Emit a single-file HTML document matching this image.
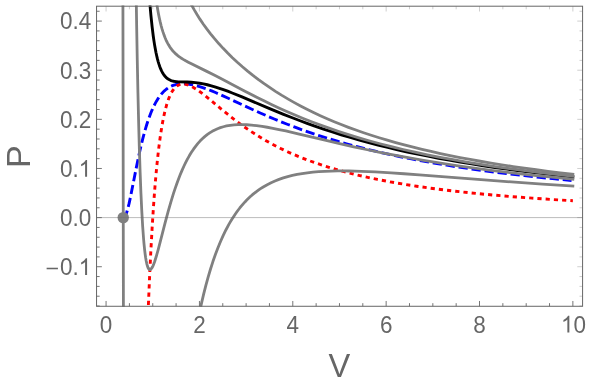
<!DOCTYPE html>
<html><head><meta charset="utf-8"><title>P-V diagram</title>
<style>
html,body{margin:0;padding:0;background:#fff;}
body{width:590px;height:384px;overflow:hidden;position:relative;font-family:"Liberation Sans",sans-serif;}
</style></head><body>
<svg width="590" height="384" viewBox="0 0 590 384" style="position:absolute;left:0;top:0;will-change:transform">
<defs><clipPath id="c"><rect x="96.05" y="5.60" width="487.03" height="301.17"/></clipPath></defs>
<rect x="0" y="0" width="590" height="384" fill="#fff"/>
<g clip-path="url(#c)" fill="none" stroke-linejoin="round">
<path d="M123.24 217.60 L123.82 217.50 L124.37 217.14 L124.89 216.53 L125.42 215.64 L125.98 214.43 L126.55 212.90 L127.14 211.06 L127.81 208.68 L129.11 203.38 L130.57 196.63 L135.86 169.86 L138.15 158.70 L140.06 149.96 L141.92 142.12 L143.11 137.39 L144.36 132.73 L145.54 128.58 L146.77 124.53 L148.05 120.59 L149.25 117.16 L150.64 113.49 L151.94 110.32 L153.44 106.97 L154.85 104.11 L156.32 101.42 L157.84 98.89 L159.43 96.55 L161.08 94.39 L162.81 92.42 L164.41 90.83 L166.28 89.23 L168.01 87.99 L169.81 86.90 L171.68 85.97 L173.88 85.12 L175.92 84.53 L178.05 84.11 L180.27 83.84 L182.59 83.74 L185.32 83.80 L187.86 84.03 L190.85 84.47 L193.65 85.03 L196.96 85.84 L200.44 86.86 L204.12 88.08 L207.57 89.33 L211.65 90.94 L215.48 92.53 L220.04 94.51 L228.26 98.24 L251.88 109.21 L259.63 112.70 L267.13 115.99 L274.26 119.01 L280.88 121.72 L287.90 124.50 L294.26 126.92 L303.25 130.21 L311.66 133.13 L320.62 136.10 L328.76 138.66 L337.38 141.25 L346.51 143.85 L356.19 146.46 L366.47 149.09 L377.40 151.71 L387.05 153.90 L399.32 156.52 L410.18 158.70 L421.66 160.87 L433.81 163.04 L446.68 165.19 L457.54 166.89 L471.88 169.02 L484.00 170.70 L496.75 172.37 L510.16 174.03 L524.30 175.67 L539.20 177.29 L554.93 178.89 L571.56 180.48" stroke="#0000ff" stroke-width="2.90" stroke-dasharray="9.27 3.84" stroke-dashoffset="0.80"/>
<path d="M148.32 306.79 L149.56 277.45 L150.87 250.43 L152.25 225.71 L153.68 203.81 L154.45 193.33 L155.23 183.53 L156.02 174.37 L156.83 165.83 L157.65 157.88 L158.52 150.13 L159.41 142.96 L160.36 136.05 L161.28 129.99 L162.27 124.17 L163.26 118.87 L164.33 113.85 L165.41 109.33 L166.51 105.28 L167.64 101.67 L168.83 98.34 L170.05 95.44 L171.35 92.83 L172.72 90.54 L173.42 89.55 L174.12 88.65 L174.83 87.84 L175.61 87.07 L176.34 86.44 L177.13 85.85 L177.93 85.36 L178.74 84.94 L179.56 84.61 L180.45 84.34 L181.23 84.18 L182.08 84.07 L182.87 84.03 L183.74 84.05 L184.61 84.14 L185.56 84.29 L187.43 84.76 L189.41 85.48 L191.57 86.48 L193.86 87.74 L196.36 89.29 L198.19 90.52 L200.20 91.96 L204.68 95.38 L209.45 99.23 L221.53 109.28 L227.61 114.23 L234.10 119.33 L240.40 124.06 L244.00 126.64 L247.58 129.14 L251.14 131.53 L254.67 133.83 L258.28 136.10 L261.86 138.27 L265.52 140.41 L269.27 142.52 L272.84 144.46 L276.35 146.29 L280.07 148.17 L283.73 149.95 L287.47 151.70 L291.29 153.41 L299.01 156.70 L307.06 159.86 L315.27 162.84 L323.82 165.71 L332.72 168.46 L338.04 170.00 L343.30 171.45 L348.69 172.86 L354.19 174.24 L359.82 175.59 L365.57 176.90 L371.46 178.18 L377.48 179.42 L389.93 181.81 L402.95 184.06 L416.57 186.20 L430.82 188.21 L445.71 190.11 L461.30 191.90 L477.59 193.59 L494.95 195.20 L513.12 196.72 L532.13 198.14 L552.04 199.47 L572.87 200.72" stroke="#ff0000" stroke-width="2.90" stroke-dasharray="4.20 4.05" stroke-dashoffset="-1.80"/>
<path d="M146.04 -59.50 L146.92 -41.56 L147.87 -24.92 L148.83 -10.16 L149.85 3.36 L150.94 15.65 L152.10 26.69 L153.28 36.21 L153.91 40.59 L154.58 44.88 L155.23 48.58 L155.92 52.20 L156.63 55.50 L157.38 58.69 L158.16 61.56 L158.94 64.15 L159.73 66.47 L160.58 68.67 L161.45 70.62 L162.38 72.43 L163.38 74.08 L164.39 75.50 L165.48 76.77 L166.58 77.84 L167.76 78.77 L169.02 79.56 L170.47 80.26 L172.07 80.83 L173.83 81.26 L175.82 81.57 L177.43 81.72 L179.33 81.83 L187.24 82.04 L191.25 82.24 L195.46 82.63 L199.63 83.20 L203.40 83.88 L207.31 84.74 L211.39 85.80 L215.63 87.05 L219.44 88.28 L223.38 89.65 L227.68 91.23 L232.24 92.99 L242.00 96.95 L269.06 108.36 L283.53 114.29 L291.64 117.49 L299.45 120.48 L307.06 123.30 L314.78 126.06 L323.56 129.07 L332.31 131.95 L341.21 134.75 L350.25 137.46 L359.41 140.09 L368.68 142.62 L378.06 145.05 L387.77 147.45 L397.57 149.76 L407.44 151.96 L417.65 154.13 L427.93 156.20 L438.54 158.23 L449.20 160.17 L460.21 162.07 L471.57 163.92 L483.29 165.74 L495.04 167.46 L507.17 169.14 L519.67 170.79 L532.56 172.39 L545.46 173.91 L559.16 175.43 L572.87 176.87" stroke="#000" stroke-width="2.90" stroke-linecap="square"/>
<path d="M122.84 -52.01 L123.63 448.16 M179.84 449.72 L181.37 434.96 L183.01 420.12 L184.60 406.54 L186.31 392.91 L188.06 379.87 L189.84 367.41 L191.66 355.51 L193.53 344.15 L195.43 333.32 L197.37 323.00 L199.36 313.17 L201.48 303.41 L203.65 294.15 L205.87 285.38 L208.14 277.08 L210.47 269.23 L212.84 261.81 L215.38 254.51 L217.87 247.93 L220.52 241.47 L223.24 235.41 L226.02 229.73 L228.87 224.42 L230.32 221.90 L231.91 219.26 L233.40 216.92 L235.03 214.46 L236.55 212.29 L238.22 210.01 L239.78 207.99 L241.49 205.89 L243.23 203.87 L244.98 201.93 L246.76 200.07 L248.56 198.29 L250.39 196.59 L252.23 194.95 L254.10 193.40 L256.14 191.79 L258.07 190.38 L260.16 188.92 L263.67 186.70 L267.25 184.66 L271.08 182.72 L275.00 180.97 L279.02 179.40 L283.30 177.93 L287.69 176.63 L292.36 175.46 L297.16 174.44 L302.09 173.57 L307.33 172.82 L312.92 172.19 L318.66 171.70 L324.78 171.33 L331.08 171.09 L337.78 170.97 L343.28 170.96 L348.92 171.01 L354.93 171.14 L361.34 171.34 L375.19 171.96 L391.18 172.89 L404.01 173.76 L419.25 174.87 L481.01 179.63 L511.53 181.90 L542.40 184.07 L572.87 186.06" stroke="#808080" stroke-width="2.80" stroke-linecap="square"/>
<path d="M135.42 -58.08 L136.00 -15.82 L136.62 24.10 L137.26 59.80 L137.94 93.02 L138.63 122.33 L139.37 149.15 L140.13 172.39 L140.94 193.19 L141.77 210.80 L142.65 226.08 L143.59 238.99 L144.07 244.42 L144.60 249.56 L145.13 254.00 L145.67 257.81 L146.21 261.00 L146.81 263.80 L147.41 266.00 L148.06 267.74 L148.39 268.38 L148.72 268.89 L149.06 269.26 L149.40 269.50 L149.65 269.60 L149.95 269.64 L150.21 269.60 L150.51 269.47 L151.12 268.98 L151.75 268.19 L152.42 267.04 L153.11 265.61 L153.85 263.79 L154.60 261.71 L156.24 256.52 L158.14 249.76 L159.96 242.86 L165.09 222.88 L168.11 211.63 L170.77 202.31 L173.42 193.69 L175.09 188.62 L176.80 183.70 L178.55 178.96 L180.27 174.58 L182.03 170.37 L183.76 166.51 L185.61 162.68 L187.42 159.18 L189.43 155.59 L191.41 152.34 L193.53 149.16 L195.60 146.32 L197.73 143.67 L200.00 141.11 L202.33 138.76 L204.71 136.61 L207.15 134.66 L209.65 132.91 L212.22 131.34 L214.85 129.95 L217.54 128.73 L220.41 127.65 L223.36 126.74 L226.49 125.98 L230.20 125.32 L234.02 124.87 L238.09 124.62 L242.29 124.57 L246.76 124.73 L251.52 125.08 L256.59 125.63 L262.13 126.41 L267.25 127.25 L272.87 128.29 L279.02 129.53 L285.74 130.99 L298.10 133.81 L326.07 140.46 L339.60 143.61 L353.71 146.79 L367.40 149.75 L381.04 152.55 L394.54 155.19 L408.12 157.70 L422.02 160.14 L439.16 162.95 L456.54 165.60 L474.47 168.14 L492.94 170.57 L511.93 172.88 L531.44 175.08 L551.89 177.20 L572.87 179.21" stroke="#808080" stroke-width="2.80" stroke-linecap="square"/>
<path d="M150.34 -59.47 L151.52 -43.59 L152.74 -29.63 L154.08 -16.54 L155.46 -5.20 L156.19 0.05 L156.94 4.92 L157.74 9.72 L158.55 14.14 L159.38 18.21 L160.27 22.18 L161.18 25.81 L162.11 29.14 L163.05 32.17 L164.06 35.11 L165.09 37.78 L166.20 40.33 L167.33 42.65 L168.54 44.85 L169.77 46.84 L171.09 48.73 L172.51 50.51 L173.95 52.12 L175.50 53.65 L177.22 55.16 L179.05 56.59 L181.00 57.96 L183.23 59.38 L185.69 60.80 L188.30 62.21 L191.41 63.81 L205.78 70.87 L214.63 75.34 L222.78 79.57 L244.44 90.95 L257.18 97.46 L264.44 101.07 L271.41 104.42 L278.34 107.67 L285.04 110.70 L293.83 114.53 L302.66 118.21 L311.51 121.72 L320.54 125.13 L329.76 128.44 L338.91 131.56 L348.44 134.64 L358.11 137.61 L368.94 140.74 L379.97 143.74 L391.46 146.68 L403.13 149.49 L414.99 152.17 L427.32 154.78 L440.14 157.33 L453.13 159.74 L466.62 162.09 L480.65 164.38 L494.83 166.54 L509.56 168.64 L524.84 170.67 L540.27 172.59 L556.28 174.45 L572.87 176.25" stroke="#808080" stroke-width="2.80" stroke-linecap="square"/>
<path d="M169.65 -59.83 L171.16 -52.78 L172.77 -45.93 L174.42 -39.52 L176.18 -33.28 L178.06 -27.21 L179.98 -21.51 L182.03 -15.94 L184.14 -10.68 L186.47 -5.34 L188.86 -0.27 L191.41 4.72 L194.13 9.66 L197.02 14.54 L200.09 19.39 L203.37 24.22 L206.76 28.91 L210.57 33.86 L214.53 38.70 L218.74 43.57 L223.13 48.34 L227.68 53.04 L232.41 57.67 L237.32 62.24 L242.43 66.75 L247.59 71.09 L252.95 75.38 L258.51 79.61 L264.13 83.69 L269.96 87.71 L275.83 91.57 L281.92 95.38 L288.22 99.13 L294.38 102.63 L300.56 105.97 L306.94 109.26 L313.53 112.50 L320.34 115.68 L327.15 118.71 L334.18 121.70 L341.20 124.53 L348.44 127.32 L355.90 130.05 L363.60 132.73 L371.27 135.27 L379.17 137.76 L387.30 140.20 L395.67 142.59 L404.30 144.92 L413.18 147.21 L422.02 149.37 L431.11 151.48 L440.46 153.54 L450.09 155.55 L459.98 157.52 L470.17 159.44 L480.28 161.25 L491.05 163.07 L501.74 164.79 L513.12 166.53 L524.43 168.16 L536.05 169.75 L547.99 171.30 L560.26 172.81 L572.87 174.28" stroke="#808080" stroke-width="2.80" stroke-linecap="square"/>
</g>
<circle cx="123.24" cy="217.60" r="5.7" fill="#808080"/>
<line x1="96.55" y1="217.60" x2="582.58" y2="217.60" stroke="#666" stroke-opacity="0.55" stroke-width="0.8"/>
<path d="M106.07 306.27V300.97M129.41 306.27V303.17M152.75 306.27V303.17M176.09 306.27V303.17M199.43 306.27V300.97M222.77 306.27V303.17M246.11 306.27V303.17M269.45 306.27V303.17M292.79 306.27V300.97M316.13 306.27V303.17M339.47 306.27V303.17M362.81 306.27V303.17M386.15 306.27V300.97M409.49 306.27V303.17M432.83 306.27V303.17M456.17 306.27V303.17M479.51 306.27V300.97M502.85 306.27V303.17M526.19 306.27V303.17M549.53 306.27V303.17M572.87 306.27V300.97M96.55 306.03H99.65M96.55 296.21H99.65M96.55 286.38H99.65M96.55 276.56H99.65M96.55 266.73H101.85M96.55 256.90H99.65M96.55 247.08H99.65M96.55 237.25H99.65M96.55 227.43H99.65M96.55 217.60H101.85M96.55 207.77H99.65M96.55 197.95H99.65M96.55 188.12H99.65M96.55 178.30H99.65M96.55 168.47H101.85M96.55 158.64H99.65M96.55 148.82H99.65M96.55 138.99H99.65M96.55 129.17H99.65M96.55 119.34H101.85M96.55 109.51H99.65M96.55 99.69H99.65M96.55 89.86H99.65M96.55 80.04H99.65M96.55 70.21H101.85M96.55 60.38H99.65M96.55 50.56H99.65M96.55 40.73H99.65M96.55 30.91H99.65M96.55 21.08H101.85M96.55 11.25H99.65" stroke="#666666" stroke-width="0.9" fill="none"/>
<path d="M106.07 6.20V11.50M129.41 6.20V9.30M152.75 6.20V9.30M176.09 6.20V9.30M199.43 6.20V11.50M222.77 6.20V9.30M246.11 6.20V9.30M269.45 6.20V9.30M292.79 6.20V11.50M316.13 6.20V9.30M339.47 6.20V9.30M362.81 6.20V9.30M386.15 6.20V11.50M409.49 6.20V9.30M432.83 6.20V9.30M456.17 6.20V9.30M479.51 6.20V11.50M502.85 6.20V9.30M526.19 6.20V9.30M549.53 6.20V9.30M572.87 6.20V11.50M582.58 306.03H579.48M582.58 296.21H579.48M582.58 286.38H579.48M582.58 276.56H579.48M582.58 266.73H577.28M582.58 256.90H579.48M582.58 247.08H579.48M582.58 237.25H579.48M582.58 227.43H579.48M582.58 217.60H577.28M582.58 207.77H579.48M582.58 197.95H579.48M582.58 188.12H579.48M582.58 178.30H579.48M582.58 168.47H577.28M582.58 158.64H579.48M582.58 148.82H579.48M582.58 138.99H579.48M582.58 129.17H579.48M582.58 119.34H577.28M582.58 109.51H579.48M582.58 99.69H579.48M582.58 89.86H579.48M582.58 80.04H579.48M582.58 70.21H577.28M582.58 60.38H579.48M582.58 50.56H579.48M582.58 40.73H579.48M582.58 30.91H579.48M582.58 21.08H577.28M582.58 11.25H579.48" stroke="#666" stroke-opacity="0.45" stroke-width="0.7" fill="none"/>
<rect x="96.55" y="6.20" width="486.03" height="300.07" fill="none" stroke="#666666" stroke-width="1"/>
<text transform="translate(106.07,332.60) scale(1,1.035)" font-size="22.50" text-anchor="middle" font-family="Liberation Sans, sans-serif" fill="#666666">0</text>
<text transform="translate(199.43,332.60) scale(1,1.035)" font-size="22.50" text-anchor="middle" font-family="Liberation Sans, sans-serif" fill="#666666">2</text>
<text transform="translate(292.79,332.60) scale(1,1.035)" font-size="22.50" text-anchor="middle" font-family="Liberation Sans, sans-serif" fill="#666666">4</text>
<text transform="translate(386.15,332.60) scale(1,1.035)" font-size="22.50" text-anchor="middle" font-family="Liberation Sans, sans-serif" fill="#666666">6</text>
<text transform="translate(479.51,332.60) scale(1,1.035)" font-size="22.50" text-anchor="middle" font-family="Liberation Sans, sans-serif" fill="#666666">8</text>
<path transform="translate(560.96,332.60) scale(0.01099,-0.01137)" d="M763 0H583V1147Q518 1085 412.5 1023Q307 961 223 930V1104Q374 1175 487 1276Q600 1377 647 1472H763Z" fill="#666666"/>
<text transform="translate(573.47,332.60) scale(1,1.035)" font-size="22.50" text-anchor="start" font-family="Liberation Sans, sans-serif" fill="#666666">0</text>
<text transform="translate(91.20,29.38) scale(1,1.035)" font-size="22.50" text-anchor="end" font-family="Liberation Sans, sans-serif" fill="#666666">0.4</text>
<text transform="translate(91.20,78.51) scale(1,1.035)" font-size="22.50" text-anchor="end" font-family="Liberation Sans, sans-serif" fill="#666666">0.3</text>
<text transform="translate(91.20,127.64) scale(1,1.035)" font-size="22.50" text-anchor="end" font-family="Liberation Sans, sans-serif" fill="#666666">0.2</text>
<path transform="translate(78.69,176.77) scale(0.01099,-0.01137)" d="M763 0H583V1147Q518 1085 412.5 1023Q307 961 223 930V1104Q374 1175 487 1276Q600 1377 647 1472H763Z" fill="#666666"/>
<text transform="translate(78.69,176.77) scale(1,1.035)" font-size="22.50" text-anchor="end" font-family="Liberation Sans, sans-serif" fill="#666666">0.</text>
<text transform="translate(91.20,225.90) scale(1,1.035)" font-size="22.50" text-anchor="end" font-family="Liberation Sans, sans-serif" fill="#666666">0.0</text>
<path transform="translate(78.69,275.03) scale(0.01099,-0.01137)" d="M763 0H583V1147Q518 1085 412.5 1023Q307 961 223 930V1104Q374 1175 487 1276Q600 1377 647 1472H763Z" fill="#666666"/>
<text transform="translate(78.69,275.03) scale(1,1.035)" font-size="22.50" text-anchor="end" font-family="Liberation Sans, sans-serif" fill="#666666">0.</text>
<rect x="46.62" y="267.73" width="11.30" height="1.55" fill="#666666"/>
<text transform="translate(339.4,376.60) scale(1,1.035)" font-size="32.6" text-anchor="middle" font-family="Liberation Sans, sans-serif" fill="#666666">V</text>
<text transform="translate(30.2,156.50) rotate(-90) scale(1.05,1)" font-size="32.6" text-anchor="middle" font-family="Liberation Sans, sans-serif" fill="#666666">P</text>
</svg>
</body></html>
